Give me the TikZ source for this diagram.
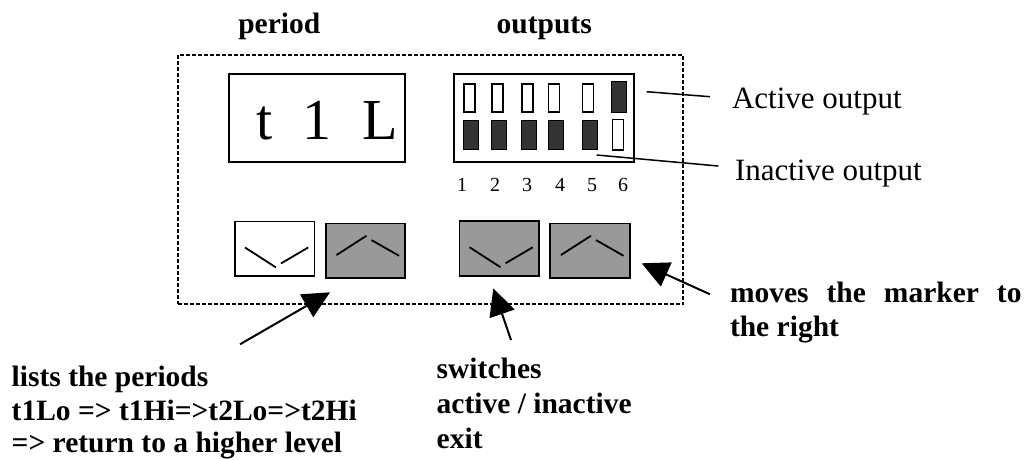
\documentclass[tikz,border=0pt]{standalone}
\usepackage{fontspec}
\setmainfont{Liberation Serif}
\usetikzlibrary{arrows.meta,calc}
\definecolor{ledon}{HTML}{333333}
\definecolor{btngray}{HTML}{999999}
\begin{document}
\begin{tikzpicture}[x=1pt,y=-1pt,
  frame/.style={draw,line width=1.8pt,dash pattern=on 3.5pt off 2.5pt,inner sep=0,outer sep=0},
  panel/.style={draw,line width=1.8pt,inner sep=0,outer sep=0},
  ledoff/.style={draw,line width=1.6pt,fill=white,minimum width=11pt,minimum height=28pt,inner sep=0,outer sep=0},
  ledon/.style={draw,line width=1.2pt,fill=ledon,minimum width=15pt,minimum height=29pt,inner sep=0,outer sep=0},
  btn/.style={draw,line width=1.8pt,minimum width=79.5pt,minimum height=54.5pt,inner sep=0,outer sep=0},
  chev/.style={line width=1.8pt},
  lbl/.style={anchor=base west,inner sep=0,outer sep=0,font=\fontsize{29.5}{34}\selectfont\bfseries},
  reg/.style={anchor=base west,inner sep=0,outer sep=0,font=\fontsize{31}{36}\selectfont},
  num/.style={anchor=base,inner sep=0,outer sep=0,font=\fontsize{20}{24}\selectfont},
  leader/.style={line width=1.5pt},
  arr/.style={line width=2pt,-{Triangle[length=27pt,width=26pt]}}]
\useasboundingbox (0,0) rectangle (1027,459);

% titles
\node[lbl] (tperiod) at (238.3,33.3) {period};
\node[lbl] (toutputs) at (496.7,33.3) {outputs};

% dashed frame
\node[frame,minimum width=505.3pt,minimum height=249.3pt] (frame) at (430.7,179.7) {};

% period display
\node[panel,minimum width=176.5pt,minimum height=88.5pt] (disp) at (317,118) {};
\node[anchor=base west,inner sep=0,font=\fontsize{58}{64}\selectfont] (dtext) at (256.5,139.3) {t\hspace{30pt}1\hspace{31pt}L};

% outputs panel
\node[panel,minimum width=180.5pt,minimum height=88.5pt] (outp) at (544,118) {};
\node[ledoff] (u1) at (469.5,98) {};
\node[ledoff] (u2) at (497.2,98) {};
\node[ledoff] (u3) at (527.2,98) {};
\node[ledoff] (u4) at (553.9,98) {};
\node[ledoff] (u5) at (587.9,98) {};
\node[ledon,minimum height=31pt] (u6) at (619.2,96.7) {};
\node[ledon] (d1) at (471.3,135) {};
\node[ledon] (d2) at (499,135) {};
\node[ledon] (d3) at (529,135) {};
\node[ledon] (d4) at (555.7,135) {};
\node[ledon] (d5) at (589.7,135) {};
\node[ledoff,minimum height=30.5pt] (d6) at (617.9,134.7) {};

\node[num] (n1) at (462,191.7) {1};
\node[num] (n2) at (495,191.7) {2};
\node[num] (n3) at (527,191.7) {3};
\node[num] (n4) at (560,191.7) {4};
\node[num] (n5) at (592,191.7) {5};
\node[num] (n6) at (623,191.7) {6};

% labels for outputs
\node[reg] (lact) at (732,108.3) {Active output};
\node[reg] (linact) at (735,180.7) {Inactive output};
\coordinate (las) at (646.7,91.7);
\coordinate (lae) at (710,96.7);
\coordinate (lis) at (596.7,155);
\coordinate (lie) at (718.3,166);
\draw[leader] (las) -- (lae);
\draw[leader] (lis) -- (lie);

% buttons
\node[btn,fill=white] (b1) at (274.7,248.7) {};
\node[btn,fill=btngray] (b2) at (365.5,250.7) {};
\node[btn,fill=btngray] (b3) at (499.3,248.5) {};
\node[btn,fill=btngray] (b4) at (590,250.7) {};

\foreach \b in {b1,b3}{
  \draw[chev] ($(\b.north west)+(10,26)$) -- ($(\b.north west)+(41,46)$);
  \draw[chev] ($(\b.north west)+(46,42)$) -- ($(\b.north west)+(73.3,26)$);
}
\foreach \b in {b2,b4}{
  \draw[chev] ($(\b.north west)+(10.7,31.6)$) -- ($(\b.north west)+(40.7,12.3)$);
  \draw[chev] ($(\b.north west)+(45.7,16.6)$) -- ($(\b.north west)+(73.3,32.3)$);
}

% arrows
\coordinate (t1) at (240,344.3);
\coordinate (h1) at (330,292.3);
\coordinate (t2) at (511,340);
\coordinate (h2) at (493.3,288.3);
\coordinate (t3) at (710,294.3);
\coordinate (h3) at (641.7,263.3);
\draw[arr] (t1) -- (h1);
\draw[arr] (t2) -- (h2);
\draw[arr] (t3) -- (h3);

% annotations
\node[lbl] (m1) at (730,302) {\makebox[291.5pt][s]{moves the marker to}};
\node[lbl] (m2) at (730,336) {the right};

\node[lbl] (p1) at (11.7,386) {lists the periods};
\node[lbl] (p2) at (11.7,420) {t1Lo => t1Hi=>t2Lo=>t2Hi};
\node[lbl] (p3) at (11.7,452) {=> return to a higher level};

\node[lbl] (s1) at (436.7,378) {switches};
\node[lbl] (s2) at (436.7,413) {active / inactive};
\node[lbl] (s3) at (436.7,448) {exit};
\end{tikzpicture}
\end{document}
